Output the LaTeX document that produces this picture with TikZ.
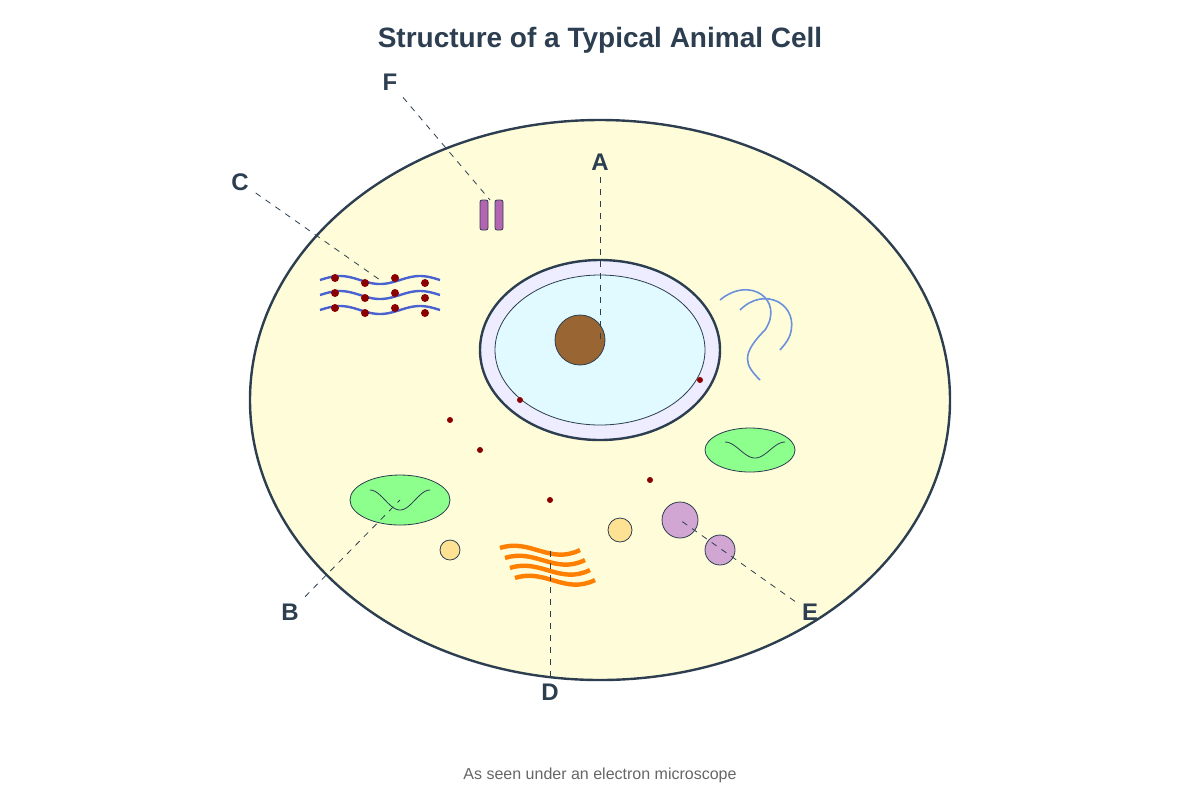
\documentclass[tikz,border=0pt]{standalone}
\usepackage{fontspec}
\setmainfont{Liberation Sans}
\usepackage{xcolor}
\begin{document}
\begin{tikzpicture}[x=0.5pt,y=-0.5pt,
	outl/.style={draw=textc},
	lbl/.style={font=\bfseries\fontsize{12}{14}\selectfont,text=textc},
	lead/.style={dashed,draw=textc,thin},
	rib/.style={fill=ribc,draw=none}]
		%COLORES
		\definecolor{textc}{HTML}{2C3E50}
		\definecolor{ribc}{HTML}{8B0000}
		\definecolor{erc}{HTML}{4A62D0}
		\definecolor{cytc}{HTML}{6A90DC}
		\useasboundingbox (0,0) rectangle (1200,800);

		%TITULO
		\node[font=\bfseries\fontsize{14}{16}\selectfont,text=textc] (title) at (600,40) {Structure of a Typical Animal Cell};
		\node[font=\fontsize{8}{10}\selectfont,text=gray!80!black] (foot) at (600,775) {As seen under an electron microscope};

		%CELULA
		\draw[outl,very thick,fill=yellow!15] (600,400) ellipse [x radius=350,y radius=280];

		%NUCLEO
		\draw[outl,very thick,fill=blue!7] (600,350) ellipse [x radius=120,y radius=90];
		\draw[outl,fill=blue!15!cyan!12] (600,350) ellipse [x radius=105,y radius=75];
		\draw[outl,fill=brown!80!black] (580,340) circle (25);

		%CENTRIOLOS
		\draw[outl,fill=violet!60,rounded corners=1pt] (480,200) rectangle (488,230);
		\draw[outl,fill=violet!60,rounded corners=1pt] (495,200) rectangle (503,230);

		%RETICULO
		\foreach \y in {280,295,310}{
			\draw[erc,very thick,domain=320:440,samples=40] plot (\x,{\y-4*cos((\x-340)*4.5)});
		}
		\foreach \x/\y in {335/278,365/283,395/278,425/283}{
			\foreach \d in {0,15,30}{
				\fill[rib] (\x,\y+\d) circle (4);
			}
		}

		%GOLGI
		\foreach \i in {0,...,3}{
			\draw[orange,line width=2.2pt] (500+5*\i,548+10*\i) .. controls (530+5*\i,538+10*\i) and (550+5*\i,565+10*\i) .. (580+5*\i,550+10*\i);
		}

		%MITOCONDRIAS
		\draw[outl,fill=green!45] (400,500) ellipse [x radius=50,y radius=25];
		\draw[textc,domain=370:430,samples=30] plot (\x,{500-10*cos((\x-370)*6)});
		\draw[outl,fill=green!45] (750,450) ellipse [x radius=45,y radius=22];
		\draw[textc,domain=725:785,samples=30] plot (\x,{450-8*cos((\x-725)*6)});

		%VESICULAS Y LISOSOMAS
		\draw[outl,fill=yellow!50!orange!40] (450,550) circle (10);
		\draw[outl,fill=yellow!50!orange!40] (620,530) circle (12);
		\draw[outl,fill=violet!35] (680,520) circle (18);
		\draw[outl,fill=violet!35] (720,550) circle (15);

		%RIBOSOMAS
		\foreach \x/\y in {450/420,480/450,520/400,700/380,650/480,550/500}{
			\fill[rib] (\x,\y) circle (3);
		}

		%CITOESQUELETO
		\draw[cytc,thick] (720,300) .. controls (750,275) and (785,300) .. (765,330) .. controls (740,355) and (745,365) .. (760,380);
		\draw[cytc,thick] (740,310) .. controls (765,285) and (800,305) .. (790,335) .. controls (787,343) and (783,346) .. (780,350);

		%ETIQUETAS
		\coordinate (tA) at (600,340);
		\coordinate (tB) at (400,500);
		\coordinate (tC) at (380,280);
		\coordinate (tD) at (550,550);
		\coordinate (tE) at (680,520);
		\coordinate (tF) at (490,200);
		\node[lbl] (A) at (600,162) {A};
		\node[lbl] (B) at (290,612) {B};
		\node[lbl] (C) at (240,182) {C};
		\node[lbl] (D) at (550,692) {D};
		\node[lbl] (E) at (810,612) {E};
		\node[lbl] (F) at (390,82) {F};
		\foreach \l in {A,B,C,D,E,F}{
			\draw[lead] (\l) -- (t\l);
		}
	\end{tikzpicture}
\end{document}
